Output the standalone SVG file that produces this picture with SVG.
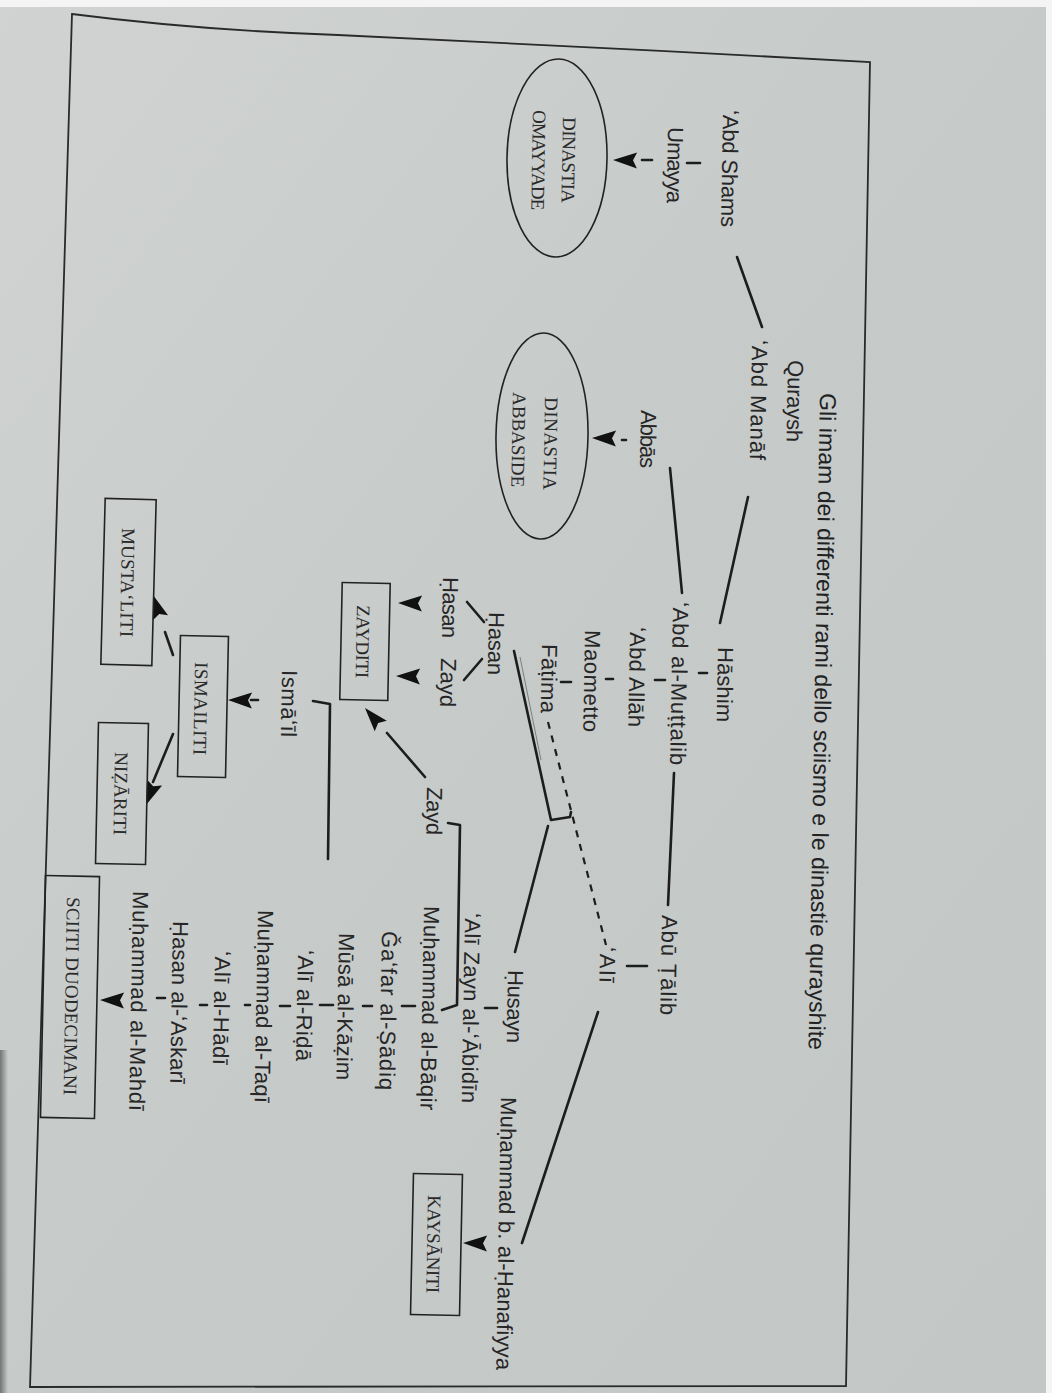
<svg xmlns="http://www.w3.org/2000/svg" xmlns:xlink="http://www.w3.org/1999/xlink" width="1052" height="1393" viewBox="0 0 1052 1393">
<defs>
<linearGradient id="paper" x1="0" y1="0" x2="1" y2="1">
<stop offset="0" stop-color="#d0d3d2"/>
<stop offset="0.5" stop-color="#c6cac9"/>
<stop offset="1" stop-color="#c3c7c6"/>
</linearGradient>
<linearGradient id="shade" x1="0" y1="0" x2="1" y2="0">
<stop offset="0" stop-color="#3a3c3c" stop-opacity="0.6"/>
<stop offset="1" stop-color="#3a3c3c" stop-opacity="0"/>
</linearGradient>
<path id="ah" d="M0,0 L-24,-8 L-20,0 L-24,8 Z"/>
<style>
.t{font-family:"Liberation Sans",Arial,sans-serif;font-size:22px;fill:#262626}
.ti{font-family:"Liberation Sans",Arial,sans-serif;font-size:23px;fill:#222}
.c{font-family:"Liberation Serif","Times New Roman",serif;font-size:19px;fill:#2a2a2a}
.ln{stroke:#1d1d1d;stroke-width:2.6;fill:none;stroke-linecap:round;stroke-linejoin:round}
.dl{stroke:#1d1d1d;stroke-width:2.2;fill:none;stroke-dasharray:7 7}
.tk{stroke:#1d1d1d;stroke-width:2.6;stroke-linecap:round}
.bx{fill:none;stroke:#222;stroke-width:1.6}
.fr{fill:none;stroke:#2a2a2a;stroke-width:1.8}
.ar{fill:#111}
</style>
</defs>
<rect width="1052" height="1393" fill="#f4f4f4"/>
<rect x="0" y="7" width="1046" height="1386" fill="url(#paper)"/>
<rect x="0" y="1050" width="8" height="343" fill="url(#shade)"/>
<path class="fr" d="M72,14 C150,24 250,32 338,35 S700,53 870,62 L846,1386 L30,1387 Z"/>

<g id="connectors">
<path class="ln" d="M737,257 L762,327"/>
<path class="ln" d="M748,497 L720,623"/>
<path class="ln" d="M670,468 L682,593"/>
<path class="ln" d="M674,773 L668,905"/>
<path class="dl" d="M548,722 L606,945"/>
<path class="ln" d="M514,651 L551,820 L570,817 L571,812"/>
<path d="M520,657 L541,760" stroke="#333" stroke-width="1" opacity="0.5" fill="none"/>
<path class="ln" d="M548,826 L515,952"/>
<path class="ln" d="M598,1012 L522,1243"/>
<path class="ln" d="M467,602 L484,622"/>
<path class="ln" d="M464,680 L482,659"/>
<path class="ln" d="M425,777 L387,733"/>
<path class="ln" d="M448,823 L460,825 L457,1005 L442,1010"/>
<path class="ln" d="M313,701 L330,704 L328,859"/>
<path class="ln" d="M173,655 L165,632"/>
<path class="ln" d="M173,734 L153,782"/>
<line class="tk" x1="687" y1="163" x2="700" y2="163"/>
<line class="tk" x1="642" y1="160" x2="652" y2="160"/>
<line class="tk" x1="622" y1="440" x2="626" y2="440"/>
<line class="tk" x1="699" y1="673" x2="707" y2="673"/>
<line class="tk" x1="655" y1="680" x2="665" y2="680"/>
<line class="tk" x1="606" y1="679" x2="613" y2="679"/>
<line class="tk" x1="561" y1="682" x2="571" y2="682"/>
<line class="tk" x1="627" y1="966" x2="647" y2="966"/>
<line class="tk" x1="485" y1="1008" x2="497" y2="1008"/>
<line class="tk" x1="402" y1="1006" x2="415" y2="1006"/>
<line class="tk" x1="363" y1="1006" x2="372" y2="1006"/>
<line class="tk" x1="320" y1="1005" x2="333" y2="1005"/>
<line class="tk" x1="280" y1="1006" x2="290" y2="1006"/>
<line class="tk" x1="245" y1="1005" x2="250" y2="1005"/>
<line class="tk" x1="200" y1="1005" x2="207" y2="1005"/>
<line class="tk" x1="157" y1="998" x2="165" y2="998"/>
<line class="tk" x1="251" y1="700" x2="258" y2="700"/>
<use xlink:href="#ah" class="ar" transform="translate(613,160) rotate(181)"/>
<use xlink:href="#ah" class="ar" transform="translate(592,438) rotate(181)"/>
<use xlink:href="#ah" class="ar" transform="translate(398,603) rotate(181)"/>
<use xlink:href="#ah" class="ar" transform="translate(396,676) rotate(181)"/>
<use xlink:href="#ah" class="ar" transform="translate(228,700) rotate(181)"/>
<use xlink:href="#ah" class="ar" transform="translate(463,1243) rotate(181)"/>
<use xlink:href="#ah" class="ar" transform="translate(100,1000) rotate(181)"/>
<use xlink:href="#ah" class="ar" transform="translate(365,708) rotate(229)"/>
<use xlink:href="#ah" class="ar" transform="translate(153,595) rotate(252)"/>
<use xlink:href="#ah" class="ar" transform="translate(146,805) rotate(111)"/>
</g>

<g id="title"><text class="ti" transform="translate(820,393) rotate(91)" textLength="657">Gli imam dei differenti rami dello sciismo e le dinastie qurayshite</text></g>

<g id="n-quraysh"><text class="t" transform="translate(788,360) rotate(91)" textLength="82">Quraysh</text></g>
<g id="n-abdmanaf"><text class="t" transform="translate(752,340) rotate(91)" textLength="120">ʻAbd Manāf</text></g>
<g id="n-abdshams"><text class="t" transform="translate(723,110) rotate(91)" textLength="117">ʻAbd Shams</text></g>
<g id="n-umayya"><text class="t" transform="translate(668,127) rotate(91)" textLength="76">Umayya</text></g>
<g id="n-abbas"><text class="t" transform="translate(641,410) rotate(91)" textLength="58">Abbās</text></g>
<g id="n-hashim"><text class="t" transform="translate(718,647) rotate(91)" textLength="75">Hāshim</text></g>
<g id="n-muttalib"><text class="t" transform="translate(673,602) rotate(91)" textLength="163">ʻAbd al-Muṭṭalib</text></g>
<g id="n-abdallah"><text class="t" transform="translate(630,627) rotate(91)" textLength="100">ʻAbd Allāh</text></g>
<g id="n-maometto"><text class="t" transform="translate(585,630) rotate(91)" textLength="102">Maometto</text></g>
<g id="n-fatima"><text class="t" transform="translate(542,644) rotate(91)" textLength="69">Fāṭima</text></g>
<g id="n-hasan1"><text class="t" transform="translate(489,612) rotate(91)" textLength="63">Ḥasan</text></g>
<g id="n-hasan2"><text class="t" transform="translate(443,577) rotate(91)" textLength="61">Ḥasan</text></g>
<g id="n-zayd1"><text class="t" transform="translate(441,658) rotate(91)" textLength="49">Zayd</text></g>
<g id="n-zayd2"><text class="t" transform="translate(427,787) rotate(91)" textLength="48">Zayd</text></g>
<g id="n-ismail"><text class="t" transform="translate(282,670) rotate(91)" textLength="67">Ismāʻīl</text></g>
<g id="n-abutalib"><text class="t" transform="translate(662,915) rotate(91)" textLength="100">Abū Ṭālib</text></g>
<g id="n-ali"><text class="t" transform="translate(600,947) rotate(91)" textLength="36">ʻAlī</text></g>
<g id="n-husayn"><text class="t" transform="translate(508,970) rotate(91)" textLength="73">Ḥusayn</text></g>
<g id="n-hanafiyya"><text class="t" transform="translate(501,1097) rotate(91)" textLength="273">Muḥammad b. al-Ḥanafiyya</text></g>
<g id="n-alizayn"><text class="t" transform="translate(465,913) rotate(91)" textLength="190">ʻAlī Zayn al-ʻĀbidīn</text></g>
<g id="n-baqir"><text class="t" transform="translate(424,906) rotate(91)" textLength="204">Muḥammad al-Bāqir</text></g>
<g id="n-jafar"><text class="t" transform="translate(382,931) rotate(91)" textLength="159">Ǧaʻfar al-Ṣādiq</text></g>
<g id="n-musa"><text class="t" transform="translate(339,933) rotate(91)" textLength="147">Mūsā al-Kāẓim</text></g>
<g id="n-rida"><text class="t" transform="translate(298,950) rotate(91)" textLength="111">ʻAlī al-Riḍā</text></g>
<g id="n-taqi"><text class="t" transform="translate(258,910) rotate(91)" textLength="193">Muḥammad al-Taqī</text></g>
<g id="n-hadi"><text class="t" transform="translate(215,951) rotate(91)" textLength="114">ʻAlī al-Hādī</text></g>
<g id="n-askari"><text class="t" transform="translate(173,921) rotate(91)" textLength="163">Ḥasan al-ʻAskarī</text></g>
<g id="n-mahdi"><text class="t" transform="translate(133,891) rotate(91)" textLength="220">Muḥammad al-Mahdī</text></g>

<g id="d-omayyade">
<ellipse class="bx" cx="557" cy="158" rx="50" ry="99" transform="rotate(1,557,158)"/>
<text class="c" transform="translate(563,117) rotate(91)" textLength="86">DINASTIA</text>
<text class="c" transform="translate(533,110) rotate(91)" textLength="100">OMAYYADE</text>
</g>
<g id="d-abbaside">
<ellipse class="bx" cx="542" cy="436" rx="46" ry="103" transform="rotate(1,542,436)"/>
<text class="c" transform="translate(545,397) rotate(91)" textLength="93">DINASTIA</text>
<text class="c" transform="translate(513,392) rotate(91)" textLength="95">ABBASIDE</text>
</g>
<g id="b-zayditi">
<rect class="bx" x="341" y="583" width="48" height="117" transform="rotate(1.2,365,641)"/>
<text class="c" transform="translate(357,605) rotate(91)" textLength="73">ZAYDITI</text>
</g>
<g id="b-ismailiti">
<rect class="bx" x="179" y="636" width="48" height="141" transform="rotate(1.2,203,706)"/>
<text class="c" transform="translate(195,662) rotate(91)" textLength="93">ISMAILITI</text>
</g>
<g id="b-mustaliti">
<rect class="bx" x="103" y="499" width="51" height="166" transform="rotate(1.5,128,582)"/>
<text class="c" transform="translate(122,528) rotate(91)" textLength="109">MUSTAʻLITI</text>
</g>
<g id="b-nizariti">
<rect class="bx" x="97" y="723" width="50" height="141" transform="rotate(1.2,122,793)"/>
<text class="c" transform="translate(115,752) rotate(91)" textLength="83">NIẒĀRITI</text>
</g>
<g id="b-kaysaniti">
<rect class="bx" x="412" y="1174" width="49" height="141" transform="rotate(1.2,436,1244)"/>
<text class="c" transform="translate(428,1195) rotate(91)" textLength="98">KAYSĀNITI</text>
</g>
<g id="b-duodecimani">
<rect class="bx" x="43" y="876" width="54" height="242" transform="rotate(1.2,70,997)"/>
<text class="c" transform="translate(67,897) rotate(91)" textLength="198">SCIITI DUODECIMANI</text>
</g>
</svg>
